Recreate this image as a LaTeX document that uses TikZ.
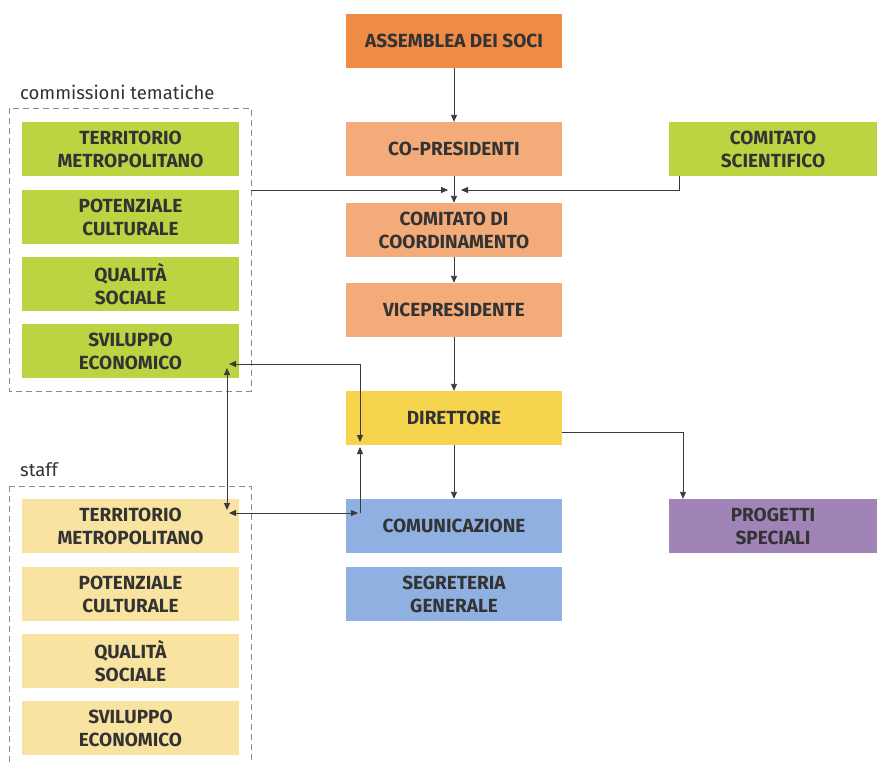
\documentclass[tikz,border=0pt]{standalone}
\usepackage{fontspec}
\setmainfont{Fira Sans}
\usetikzlibrary{arrows.meta}
\definecolor{txt}{HTML}{333333}
\definecolor{cass}{HTML}{EF8B45}
\definecolor{cpres}{HTML}{F3AB7A}
\definecolor{cdir}{HTML}{F7D44E}
\definecolor{cblue}{HTML}{8FB0E1}
\definecolor{cgreen}{HTML}{BCD441}
\definecolor{cyel}{HTML}{F8E4A0}
\definecolor{cpurp}{HTML}{A083B7}
\definecolor{cline}{HTML}{3A3A3A}
\definecolor{cdash}{HTML}{8A8A8A}
\begin{document}
\begin{tikzpicture}[x=1pt,y=-1pt,
  box/.style={rectangle,inner sep=0pt,minimum height=54pt,align=center,text=txt,
    font=\fontsize{19}{23}\selectfont\bfseries},
  mainbox/.style={box,minimum width=216pt},
  leftbox/.style={box,minimum width=217pt},
  rightbox/.style={box,minimum width=208pt},
  conn/.style={draw=cline,line width=0.9pt},
  tip/.style={-{Triangle[length=7pt,width=6pt]}},
  bitip/.style={{Triangle[length=7pt,width=6pt]}-{Triangle[length=7pt,width=6pt]}},
  dashbox/.style={draw=cdash,line width=1pt,dash pattern=on 6pt off 4pt},
  grplabel/.style={anchor=base west,inner sep=0pt,text=txt,font=\fontsize{18.5}{20}\selectfont}
]
\useasboundingbox (0,0) rectangle (877,763);
\fill[white] (0,0) rectangle (877,763);

% main column
\node[mainbox,fill=cass]  (ass)  at (454,41)  {ASSEMBLEA DEI SOCI};
\node[mainbox,fill=cpres] (pres) at (454,149) {CO-PRESIDENTI};
\node[mainbox,fill=cpres] (coord) at (454,230) {COMITATO DI\\COORDINAMENTO};
\node[mainbox,fill=cpres] (vice) at (454,310) {VICEPRESIDENTE};
\node[mainbox,fill=cdir]  (dir)  at (454,418) {DIRETTORE};
\node[mainbox,fill=cblue] (com)  at (454,526) {COMUNICAZIONE};
\node[mainbox,fill=cblue] (seg)  at (454,594) {SEGRETERIA\\GENERALE};

% right column
\node[rightbox,fill=cgreen] (sci)  at (773,149) {COMITATO\\SCIENTIFICO};
\node[rightbox,fill=cpurp]  (prog) at (773,526) {PROGETTI\\SPECIALI};

% commissioni tematiche
\node[grplabel] (lcomm) at (20,99) {commissioni tematiche};
\draw[dashbox] (9,108) rectangle (251,391);
\coordinate (commR) at (251,190);
\node[leftbox,fill=cgreen] (g1) at (130.5,149) {TERRITORIO\\METROPOLITANO};
\node[leftbox,fill=cgreen] (g2) at (130.5,217) {POTENZIALE\\CULTURALE};
\node[leftbox,fill=cgreen] (g3) at (130.5,284) {QUALITÀ\\SOCIALE};
\node[leftbox,fill=cgreen] (g4) at (130.5,351) {SVILUPPO\\ECONOMICO};

% staff
\node[grplabel] (lstaff) at (20,476) {staff};
\draw[dashbox] (9,486) -- (251,486) -- (251,775);
\draw[dashbox] (9,486) -- (9,775);
\node[leftbox,fill=cyel] (y1) at (130.5,526) {TERRITORIO\\METROPOLITANO};
\node[leftbox,fill=cyel] (y2) at (130.5,594) {POTENZIALE\\CULTURALE};
\node[leftbox,fill=cyel] (y3) at (130.5,661) {QUALITÀ\\SOCIALE};
\node[leftbox,fill=cyel] (y4) at (130.5,728) {SVILUPPO\\ECONOMICO};

% connectors
\draw[conn,tip] (ass.south) -- (pres.north);
\draw[conn,tip] (pres.south) -- (coord.north);
\draw[conn,tip] (commR) -- (448,190);
\draw[conn,tip] (sci.south -| 679,0) -- (679,190) -- (461,190);
\draw[conn,tip] (coord.south) -- (vice.north);
\draw[conn,tip] (vice.south) -- (dir.north);
\draw[conn,tip] (dir.south) -- (com.north);
\draw[conn,tip] (dir.east |- 0,432) -- (683,432) -- (prog.north -| 683,0);

% bidirectional links
\draw[conn,bitip] (229,364) -- (360,364) -- (360,442);
\draw[conn,bitip] (227,368) -- (227,510);
\draw[conn,bitip] (229,513) -- (358,513);
\draw[conn,tip] (360,513) -- (360,447);
\end{tikzpicture}
\end{document}
